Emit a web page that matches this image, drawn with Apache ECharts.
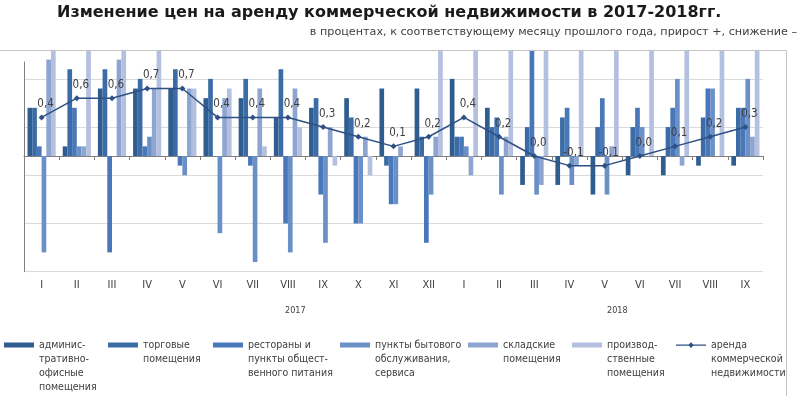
<!DOCTYPE html>
<html><head><meta charset="utf-8">
<script src="https://cdn.jsdelivr.net/npm/echarts@6/dist/echarts.min.js"></script>
<style>html,body{margin:0;padding:0;background:#fff}#c{width:800px;height:396px}</style>
</head><body><div id="c"></div>
<script>
var months = ['I','II','III','IV','V','VI','VII','VIII','IX','X','XI','XII','I','II','III','IV','V','VI','VII','VIII','IX'];
var yearLabels = ['2017','2018'];
var seriesNames = [
  'админис-\nтративно-\nофисные\nпомещения',
  'торговые\nпомещения',
  'рестораны и\nпункты общест-\nвенного питания',
  'пункты бытового\nобслуживания,\nсервиса',
  'складские\nпомещения',
  'производ-\nственные\nпомещения',
  'аренда\nкоммерческой\nнедвижимости'
];
var office      = [0.5,0.1,0.7,0.7,0.7,0.6,0.6,0.4,0.5,0.6,0.7,0.7, 0.8,0.5,-0.3,-0.3,-0.4,-0.2,-0.2,-0.1,-0.1];
var retail      = [0.5,0.9,0.9,0.8,0.9,0.8,0.8,0.9,0.6,0.4,-0.1,0.2, 0.2,0.3,0.3,0.4,0.3,0.3,0.3,0.4,0.5];
var restaurants = [0.1,0.5,-1.0,0.1,-0.1,0,-0.1,-0.7,-0.4,-0.7,-0.5,-0.9, 0.2,0.4,1.1,0.5,0.6,0.5,0.5,0.7,0.5];
var services    = [-1.0,0.1,0,0.2,-0.2,-0.8,-1.1,-1.0,-0.9,-0.7,-0.5,-0.4, 0.1,-0.4,-0.4,-0.3,-0.4,0.3,0.8,0.7,0.8];
var warehouses  = [1.0,0.1,1.0,0.7,0.7,0.6,0.7,0.7,0.3,0.2,0.1,0.2, -0.2,0.2,-0.3,-0.1,0.1,0,-0.1,0,0.2];
var industrial  = [1.1,1.1,1.1,1.1,0.7,0.7,0.1,0.3,-0.1,-0.2,0,1.1, 1.1,1.1,1.1,1.1,1.1,1.1,1.1,1.1,1.1];
var rentTotal   = [0.4,0.6,0.6,0.7,0.7,0.4,0.4,0.4,0.3,0.2,0.1,0.2, 0.4,0.2,0.0,-0.1,-0.1,0.0,0.1,0.2,0.3];

var barData = [office, retail, restaurants, services, warehouses, industrial];
var colors = ['#305d8f','#3b6ca6','#4878ba','#6b8fc7','#8ea5d2','#b4c0e0'];
var lineColor = '#2f5083';
var narrow = "'Liberation Sans Narrow','DejaVu Sans Condensed',sans-serif";

var series = barData.map(function(d, i){
  return {name: seriesNames[i], type:'bar', data:d, xAxisIndex:0, yAxisIndex:0,
    barGap:'0%', barCategoryGap:'20%', clip:false,
    itemStyle:{color:colors[i]}, emphasis:{disabled:true}};
});
series.push({name: seriesNames[6], type:'line', data:rentTotal, xAxisIndex:0, yAxisIndex:0,
  symbol:'diamond', symbolSize:6, z:10,
  itemStyle:{color:lineColor, borderWidth:0}, lineStyle:{color:lineColor, width:1.5},
  label:{show:true, position:'top', distance:4, offset:[4,0], fontSize:11.5, color:'#404040',
    fontFamily:"'DejaVu Sans Condensed','Liberation Sans',sans-serif",
    formatter:function(p){return p.value.toFixed(1).replace('.',',');}},
  emphasis:{disabled:true}});

var LH = 14.2;
var legendLeft = [4,108,213,340,468,572,676];
var legendLines = [4,2,3,3,2,3,3];
var legends = seriesNames.map(function(n, i){
  var H = legendLines[i]*LH, c = LH/2;
  var icon = (i === 6)
    ? 'path://M0 0L0.01 0M0 '+(c-0.6)+'H30V'+(c+0.6)+'H0ZM15 '+(c-2.8)+'L17.8 '+c+'L15 '+(c+2.8)+'L12.2 '+c+'ZM0 '+H+'L0.01 '+H
    : 'path://M0 0L0.01 0M0 '+(c-2.5)+'H30V'+(c+2.5)+'H0ZM0 '+H+'L0.01 '+H;
  return {left:legendLeft[i], top:338, padding:0, itemWidth:30, itemHeight:H,
    symbolKeepAspect:false, selectedMode:false, itemStyle:{borderWidth:0},
    data:[{name:n, icon:icon}],
    textStyle:{fontFamily:narrow, fontSize:10.5, color:'#404040', lineHeight:LH}};
});

var chart = echarts.init(document.getElementById('c'), null, {renderer:'canvas'});
chart.setOption({
  animation:false,
  backgroundColor:'#fff',
  title:[
    {text:'Изменение цен на аренду коммерческой недвижимости в 2017-2018гг.', left:57, top:5, padding:0,
     textStyle:{fontFamily:"'DejaVu Sans',sans-serif", fontWeight:'bold', fontSize:16, color:'#1a1a1a'}},
    {text:'в процентах, к соответствующему месяцу прошлого года, прирост +, снижение –', right:3, top:27, padding:0,
     textStyle:{fontFamily:"'DejaVu Sans',sans-serif", fontWeight:'normal', fontSize:11.2, color:'#404040'}}
  ],
  legend:legends,
  grid:{left:24, right:37, top:62, bottom:124.3},
  xAxis:[
    {type:'category', data:months, position:'bottom', boundaryGap:true,
     axisLine:{show:true, onZero:true, onZeroAxisIndex:0, lineStyle:{color:'#7f7f7f', width:1}},
     axisTick:{show:true, length:4, lineStyle:{color:'#7f7f7f'}},
     axisLabel:{show:false}, splitLine:{show:false}},
    {type:'category', data:months, position:'bottom', boundaryGap:true,
     axisLine:{show:false, onZero:false}, axisTick:{show:false},
     axisLabel:{show:true, margin:8, fontFamily:narrow, fontSize:11, color:'#404040', interval:0},
     splitLine:{show:false}}
  ],
  yAxis:[
    {type:'value', min:-1.2, max:0.975, position:'left',
     axisLine:{show:true, onZero:false, lineStyle:{color:'#7f7f7f'}}, axisTick:{show:false},
     axisLabel:{show:false}, splitLine:{show:false}},
    {type:'value', min:0, max:2.175, interval:0.5, position:'left',
     axisLine:{show:false}, axisTick:{show:false}, axisLabel:{show:false},
     splitLine:{show:true, showMaxLine:false, lineStyle:{color:'#dadada', width:1}}}
  ],
  graphic:[
    {type:'rect', shape:{x:-1, y:50.5, width:787.5, height:360}, style:{fill:'none', stroke:'#c4c4c4', lineWidth:1}, z:100, silent:true},
    {type:'text', left:285, top:306, style:{text:yearLabels[0], font:"9px "+narrow, fill:'#404040'}},
    {type:'text', left:607, top:306, style:{text:yearLabels[1], font:"9px "+narrow, fill:'#404040'}}
  ],
  series:series
});
</script></body></html>
